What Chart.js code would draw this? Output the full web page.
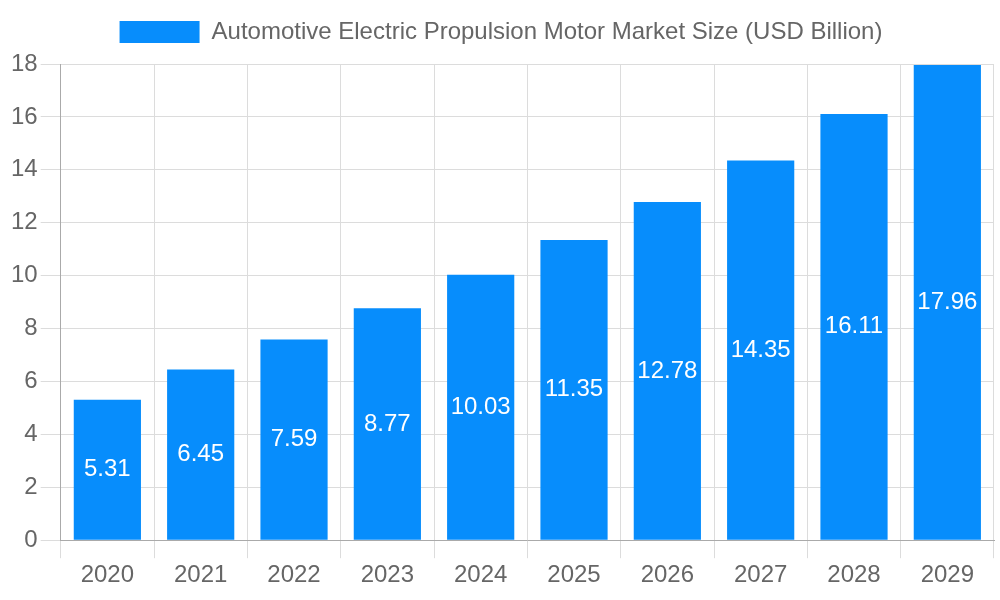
<!DOCTYPE html>
<html>
<head>
<meta charset="utf-8">
<script src="https://cdn.jsdelivr.net/npm/chart.js@4.4.1/dist/chart.umd.min.js"></script>
<style>
  html, body { margin: 0; padding: 0; background: #fff; }
  #wrap { width: 1000px; height: 600px; }
</style>
</head>
<body>
<div id="wrap"><canvas id="mainChart"></canvas></div>
<script>
const years = ['2020', '2021', '2022', '2023', '2024', '2025', '2026', '2027', '2028', '2029'];
const marketSize = [5.31, 6.45, 7.59, 8.77, 10.03, 11.35, 12.78, 14.35, 16.11, 17.96];
const seriesLabel = 'Automotive Electric Propulsion Motor Market Size (USD Billion)';

const FONT = '"Liberation Sans", Arial, sans-serif';

// --- value labels drawn in the middle of each bar ---
const barLabels = {
  id: 'barLabels',
  afterDatasetsDraw(chart) {
    const ctx = chart.ctx;
    const meta = chart.getDatasetMeta(0);
    ctx.save();
    ctx.font = '24px ' + FONT;
    ctx.fillStyle = '#fff';
    ctx.textAlign = 'center';
    ctx.textBaseline = 'middle';
    meta.data.forEach((bar, i) => {
      const mid = (bar.y + bar.base) / 2;
      ctx.fillText(marketSize[i].toFixed(2), bar.x, mid);
    });
    ctx.restore();
  },
};

// --- a bit more room under the legend ---
const legendGap = {
  id: 'legendGap',
  beforeInit(chart) {
    const fit = chart.legend.fit;
    chart.legend.fit = function () {
      fit.bind(chart.legend)();
      this.height += 10;
    };
  },
};

new Chart($('mainChart'), {
  type: 'bar',
  data: {
    labels: years,
    datasets: [{
      label: seriesLabel,
      data: marketSize,
      backgroundColor: '#078dfc',
      borderWidth: 0,
    }],
  },
  options: {
    responsive: true,
    maintainAspectRatio: false,
    animation: false,
    layout: { padding: { left: 8, right: 6, top: 4, bottom: 7 } },
    plugins: {
      legend: {
        labels: {
          font: { family: FONT, size: 24 },
          color: '#666',
          boxWidth: 80,
          boxHeight: 22,
          padding: 16,
        },
      },
      tooltip: { enabled: false },
    },
    scales: {
      x: {
        ticks: { font: { family: FONT, size: 24 }, color: '#666' },
        grid: { color: '#dcdcdc', lineWidth: 1, tickLength: 18 },
        border: { color: '#aaa' },
      },
      y: {
        min: 0,
        max: 18,
        ticks: { stepSize: 2, font: { family: FONT, size: 24 }, color: '#666' },
        grid: { color: '#dcdcdc', lineWidth: 1, tickLength: 20 },
        border: { color: '#aaa' },
      },
    },
  },
  plugins: [barLabels, legendGap],
});

function $(id) { return document.getElementById(id); }
</script>
</body>
</html>
